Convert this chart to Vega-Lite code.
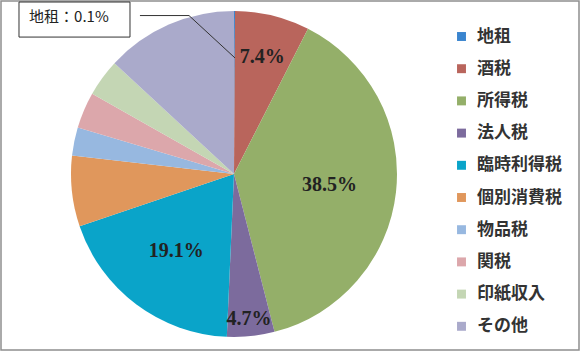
{
  "$schema": "https://vega.github.io/schema/vega-lite/v6.json",
  "width": 578,
  "height": 349,
  "padding": 1,
  "background": "white",
  "config": {"view": {"stroke": "#8f8f8f", "strokeWidth": 1.5}},
  "datasets": {
    "taxes": [
      {"idx": 1, "cat": "地租", "value": 0.1, "label": ""},
      {"idx": 2, "cat": "酒税", "value": 7.4, "label": "7.4%"},
      {"idx": 3, "cat": "所得税", "value": 38.5, "label": "38.5%"},
      {"idx": 4, "cat": "法人税", "value": 4.7, "label": "4.7%"},
      {"idx": 5, "cat": "臨時利得税", "value": 19.1, "label": "19.1%"},
      {"idx": 6, "cat": "個別消費税", "value": 7.0, "label": ""},
      {"idx": 7, "cat": "物品税", "value": 2.8, "label": ""},
      {"idx": 8, "cat": "関税", "value": 3.6, "label": ""},
      {"idx": 9, "cat": "印紙収入", "value": 3.7, "label": ""},
      {"idx": 10, "cat": "その他", "value": 13.1, "label": ""}
    ],
    "box": [{"x1": -1.319, "x2": -0.638, "y1": 1.055, "y2": 0.840, "text": "地租：0.1%", "tx": -1.013, "ty": 0.962}],
    "leader": [
      {"o": 1, "x": -0.577, "y": 0.972},
      {"o": 2, "x": -0.276, "y": 0.972},
      {"o": 3, "x": 0.006, "y": 0.712}
    ]
  },
  "data": {"name": "taxes"},
  "layer": [
    {
      "mark": {"type": "arc", "outerRadius": 163},
      "encoding": {
        "x": {"datum": 0, "type": "quantitative", "scale": {"domain": [-1.4294, 2.1166], "nice": false, "zero": false}, "axis": null},
        "y": {"datum": 0, "type": "quantitative", "scale": {"domain": [-1.0798, 1.0613], "nice": false, "zero": false}, "axis": null},
        "theta": {"field": "value", "type": "quantitative", "stack": true},
        "order": {"field": "idx", "type": "quantitative"},
        "color": {
          "field": "cat", "type": "nominal",
          "scale": {
            "domain": ["地租", "酒税", "所得税", "法人税", "臨時利得税", "個別消費税", "物品税", "関税", "印紙収入", "その他"],
            "range": ["#3a85cf", "#b9655c", "#94af69", "#7c6b9d", "#0aa4c9", "#e0975c", "#97b8e0", "#dca7ab", "#c4d6b4", "#aaaacb"]
          },
          "legend": {
            "orient": "none", "legendX": 452, "legendY": 27, "title": null,
            "symbolType": "square", "symbolSize": 80, "symbolStrokeWidth": 0,
            "labelFontSize": 17, "labelFont": "Noto Sans CJK JP", "labelFontWeight": "bold", "labelColor": "#333333",
            "rowPadding": 14.2, "labelOffset": 7
          }
        }
      }
    },
    {
      "mark": {"type": "text", "radius": 120, "font": "Liberation Serif", "fontSize": 20, "fontWeight": "bold", "color": "#222222"},
      "encoding": {
        "x": {"datum": 0, "type": "quantitative"},
        "y": {"datum": 0, "type": "quantitative"},
        "theta": {"field": "value", "type": "quantitative", "stack": true},
        "order": {"field": "idx", "type": "quantitative"},
        "text": {"condition": {"test": "datum.cat === '酒税'", "field": "label"}, "value": ""}
      }
    },
    {
      "mark": {"type": "text", "radius": 96, "font": "Liberation Serif", "fontSize": 20, "fontWeight": "bold", "color": "#222222"},
      "encoding": {
        "x": {"datum": 0, "type": "quantitative"},
        "y": {"datum": 0, "type": "quantitative"},
        "theta": {"field": "value", "type": "quantitative", "stack": true},
        "order": {"field": "idx", "type": "quantitative"},
        "text": {"condition": {"test": "datum.cat === '所得税' || datum.cat === '臨時利得税'", "field": "label"}, "value": ""}
      }
    },
    {
      "mark": {"type": "text", "radius": 146, "font": "Liberation Serif", "fontSize": 20, "fontWeight": "bold", "color": "#222222"},
      "encoding": {
        "x": {"datum": 0, "type": "quantitative"},
        "y": {"datum": 0, "type": "quantitative"},
        "theta": {"field": "value", "type": "quantitative", "stack": true},
        "order": {"field": "idx", "type": "quantitative"},
        "text": {"condition": {"test": "datum.cat === '法人税'", "field": "label"}, "value": ""}
      }
    },
    {
      "data": {"name": "leader"},
      "mark": {"type": "line", "color": "#333333", "strokeWidth": 1},
      "encoding": {
        "x": {"field": "x", "type": "quantitative"},
        "y": {"field": "y", "type": "quantitative"},
        "order": {"field": "o", "type": "quantitative"}
      }
    },
    {
      "data": {"name": "box"},
      "mark": {"type": "rect", "fill": "white", "stroke": "#333333", "strokeWidth": 1},
      "encoding": {
        "x": {"field": "x1", "type": "quantitative"},
        "x2": {"field": "x2"},
        "y": {"field": "y1", "type": "quantitative"},
        "y2": {"field": "y2"}
      }
    },
    {
      "data": {"name": "box"},
      "mark": {"type": "text", "font": "Noto Sans CJK JP", "fontSize": 15, "color": "#222222", "align": "center", "baseline": "middle"},
      "encoding": {
        "x": {"field": "tx", "type": "quantitative"},
        "y": {"field": "ty", "type": "quantitative"},
        "text": {"field": "text"}
      }
    }
  ]
}
